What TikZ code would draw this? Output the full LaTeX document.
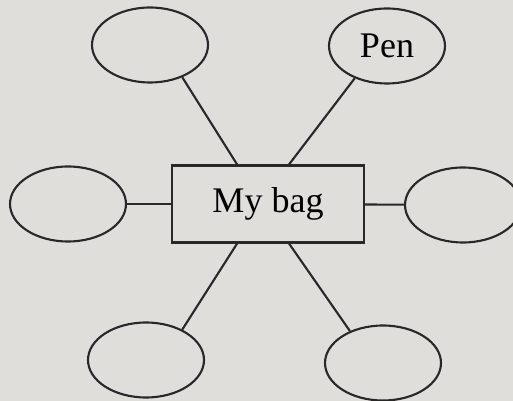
\documentclass[tikz,border=0pt]{standalone}
\usepackage{fontspec}
\setmainfont{Liberation Serif}
\usetikzlibrary{shapes.geometric}
\definecolor{scanPaper}{RGB}{224, 222, 219}
\definecolor{scanInk}{RGB}{40, 40, 40}

\begin{document}
\begin{tikzpicture}[
  x=0.02cm, y=-0.02cm,
  item/.style={
    draw=scanInk,
    ellipse,
    line width=1.2pt,
    inner sep=0pt,
    minimum width=2.32cm,
    minimum height=1.5cm,
    font=\fontsize{20.5}{24}\selectfont
  },
  topic/.style={
    draw=scanInk,
    line width=1.2pt,
    minimum width=3.84cm,
    minimum height=1.54cm,
    inner sep=0pt,
    font=\fontsize{20.5}{24}\selectfont
  },
  spoke/.style={scanInk,line width=1.2pt}
]
  \useasboundingbox (0,0) rectangle (513,401);
  \fill[scanPaper] (0,0) rectangle (513,401);
  \clip (0,0) rectangle (513,401);

  \node[topic] (bag) at (268,204) {My bag};

  \node[item] (topleft) at (150,45) {};
  \node[item] (pen) at (387,46) {Pen};
  \node[item] (left) at (68,204) {};
  \node[item] (right) at (463,205) {};
  \node[item] (botleft) at (146,360) {};
  \node[item] (botright) at (383,363) {};

  \draw[spoke] (topleft.-45) -- (bag.128);
  \draw[spoke] (pen.-135) -- (bag.62);
  \draw[spoke] (left) -- (bag);
  \draw[spoke] (right) -- (bag);
  \draw[spoke] (botleft.40) -- (bag.232);
  \draw[spoke] (botright.136) -- (bag.298);
\end{tikzpicture}
\end{document}
